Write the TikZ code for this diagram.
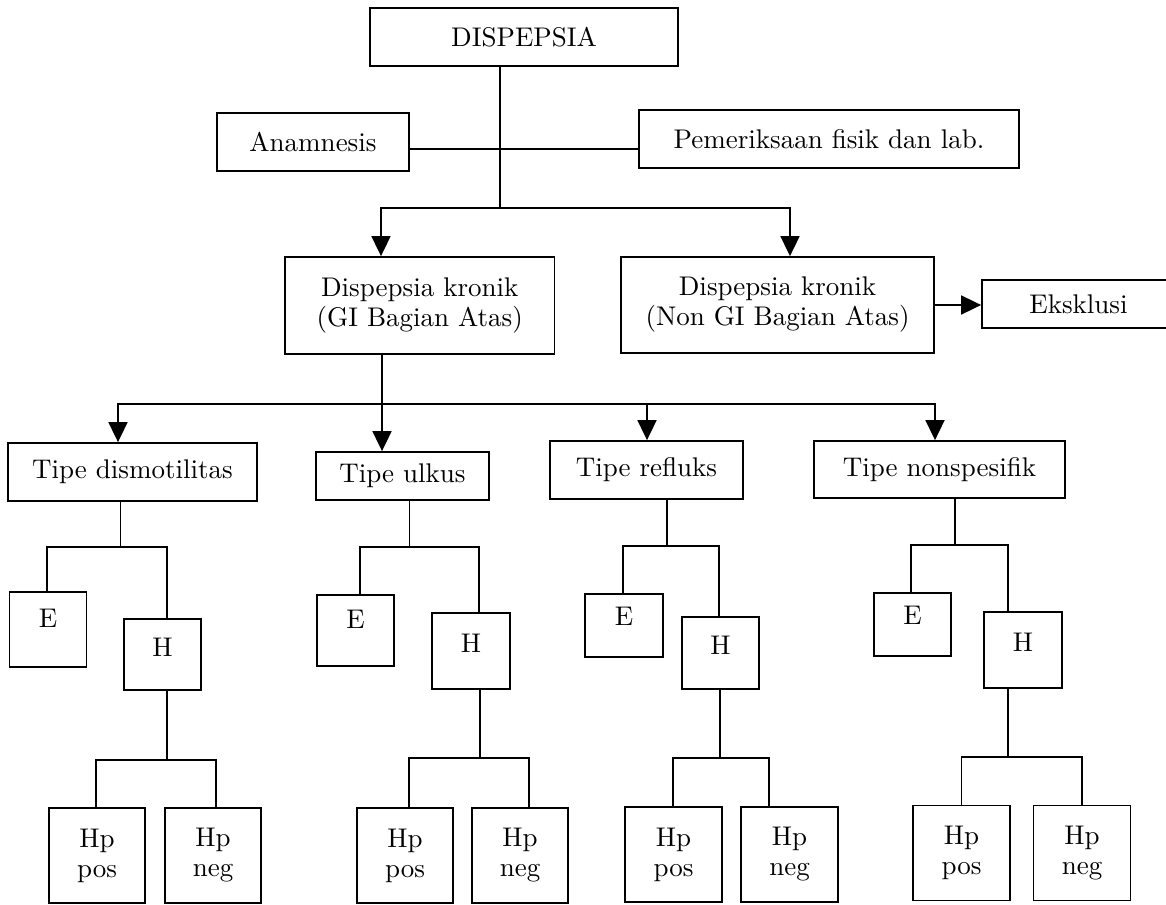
\documentclass[tikz,border=0pt]{standalone}
\usepackage{fontspec}
\setmainfont{lmroman10-regular.otf}
\usetikzlibrary{arrows.meta}
\tikzset{
  box/.style={draw, line width=1.8pt, inner sep=0pt, align=center, font=\fontsize{27}{30}\selectfont},
  conn/.style={line width=1.8pt},
  arr/.style={line width=1.8pt, -{Triangle[length=20pt,width=19pt]}},
  ebox/.style={box, text height=18pt, text depth=23pt},
  hbox/.style={box, text height=18pt, text depth=15pt},
}
\begin{document}
\begin{tikzpicture}[x=1pt,y=-1pt]
\useasboundingbox (0,0) rectangle (1166,904);
\clip (0,0) rectangle (1166,904);
% top level
\node[box, minimum width=308, minimum height=58] (dis) at (524,37) {DISPEPSIA};
\node[box, minimum width=192, minimum height=58] (anam) at (313,142) {Anamnesis};
\node[box, minimum width=380, minimum height=58] (pem) at (829,139) {Pemeriksaan fisik dan lab.};
\node[box, minimum width=269.5, minimum height=97] (gi) at (419.75,305.5) {Dispepsia kronik\\(GI Bagian Atas)};
\node[box, minimum width=313, minimum height=96] (ngi) at (777.5,305) {Dispepsia kronik\\(Non GI Bagian Atas)};
\node[box, minimum width=193, minimum height=48] (eks) at (1078.5,304) {Eksklusi};
% types
\node[box, minimum width=249, minimum height=58] (t1) at (132.5,472) {Tipe dismotilitas};
\node[box, minimum width=173, minimum height=48] (t2) at (402.5,476) {Tipe ulkus};
\node[box, minimum width=193, minimum height=58] (t3) at (646.5,470) {Tipe refluks};
\node[box, minimum width=251, minimum height=57] (t4) at (939.5,469.5) {Tipe nonspesifik};
% branch 1
\node[ebox, minimum width=77, minimum height=75] (e1) at (48,629.5) {E};
\node[hbox, minimum width=77, minimum height=71] (h1) at (162.5,654.5) {H};
\node[box, minimum width=96, minimum height=95] (p1) at (97,855.5) {Hp\\pos};
\node[box, minimum width=96, minimum height=95] (n1) at (213,855.5) {Hp\\neg};
% branch 2
\node[ebox, minimum width=77, minimum height=71] (e2) at (355.5,630.5) {E};
\node[hbox, minimum width=78, minimum height=76] (h2) at (471,651) {H};
\node[box, minimum width=96, minimum height=95] (p2) at (405,855.5) {Hp\\pos};
\node[box, minimum width=96, minimum height=95] (n2) at (520,855.5) {Hp\\neg};
% branch 3
\node[ebox, minimum width=77.5, minimum height=63, text depth=18pt] (e3) at (624,625.5) {E};
\node[hbox, minimum width=77, minimum height=72] (h3) at (720.5,653) {H};
\node[box, minimum width=97, minimum height=95] (p3) at (673.5,854.5) {Hp\\pos};
\node[box, minimum width=97, minimum height=95] (n3) at (789.5,854.5) {Hp\\neg};
% branch 4
\node[ebox, minimum width=77, minimum height=63, text depth=18pt] (e4) at (912.5,624.5) {E};
\node[hbox, minimum width=78, minimum height=76] (h4) at (1023,650) {H};
\node[box, minimum width=97, minimum height=95] (p4) at (961.5,853) {Hp\\pos};
\node[box, minimum width=97, minimum height=95] (n4) at (1082,853) {Hp\\neg};
% junctions
\coordinate (jA) at (500,208);
\coordinate (jB) at (382,404);
\coordinate (j1) at (120.5,547);
\coordinate (k1) at (167,760);
\coordinate (j2) at (409.5,547);
\coordinate (k2) at (480,758);
\coordinate (j3) at (667,546);
\coordinate (k3) at (720,758);
\coordinate (j4) at (955,545);
\coordinate (k4) at (1008,757);
% top connectors
\draw[conn] (dis.south -| jA) -- (jA);
\draw[conn] ([yshift=-7pt]anam.east) -- ([yshift=-10pt]pem.west);
\draw[arr] (jA) -| ([xshift=-38.75pt]gi.north);
\draw[arr] (jA) -| ([xshift=12.5pt]ngi.north);
\draw[arr] (ngi.east) -- (ngi.east -| eks.west);
\draw[conn] (gi.south -| jB) -- (jB);
\draw[arr] (jB) -- (t2.north -| jB);
\draw[arr] (jB) -| ([xshift=-14.5pt]t1.north);
\draw[arr] (jB) -| ([xshift=0.5pt]t3.north);
\draw[arr] (jB) -| ([xshift=-4.5pt]t4.north);
% branch 1
\draw[conn] (t1.south -| j1) -- (j1);
\draw[conn] ([xshift=-1pt]e1.north) |- (j1) -| ([xshift=4.5pt]h1.north);
\draw[conn] (h1.south -| k1) -- (k1);
\draw[conn] ([xshift=-1pt]p1.north) |- (k1) -| ([xshift=3pt]n1.north);
% branch 2
\draw[conn] (t2.south -| j2) -- (j2);
\draw[conn] ([xshift=4.5pt]e2.north) |- (j2) -| ([xshift=8pt]h2.north);
\draw[conn] (h2.south -| k2) -- (k2);
\draw[conn] ([xshift=4pt]p2.north) |- (k2) -| ([xshift=9pt]n2.north);
% branch 3
\draw[conn] (t3.south -| j3) -- (j3);
\draw[conn] ([xshift=-1pt]e3.north) |- (j3) -| ([xshift=-1.5pt]h3.north);
\draw[conn] (h3.south -| k3) -- (k3);
\draw[conn] ([xshift=-0.5pt]p3.north) |- (k3) -| ([xshift=-20.5pt]n3.north);
% branch 4
\draw[conn] (t4.south -| j4) -- (j4);
\draw[conn] ([xshift=-1.5pt]e4.north) |- (j4) -| ([xshift=-15pt]h4.north);
\draw[conn] (h4.south -| k4) -- (k4);
\draw[conn] (p4.north) |- (k4) -| (n4.north);
\end{tikzpicture}
\end{document}
